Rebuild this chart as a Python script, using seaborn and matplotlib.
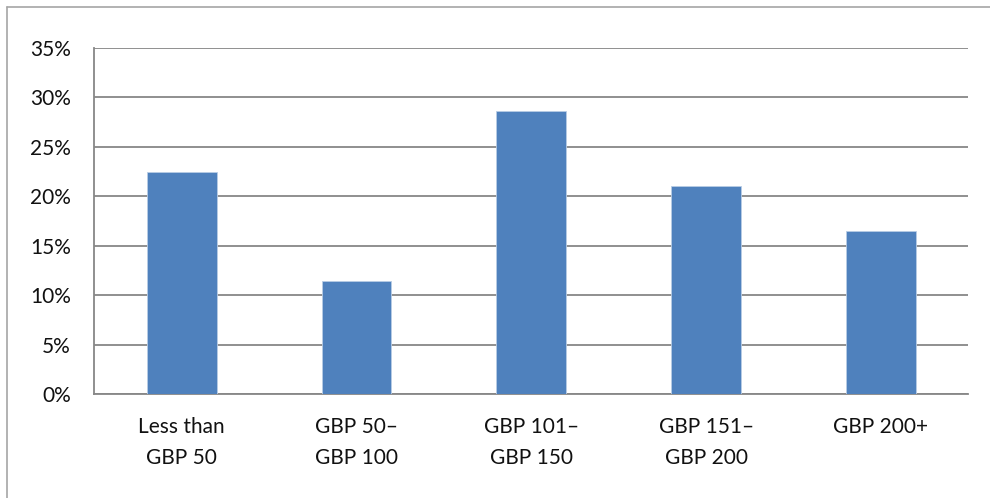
import matplotlib
matplotlib.use("Agg")
import matplotlib.pyplot as plt
from matplotlib.lines import Line2D
from matplotlib.ticker import FuncFormatter
import numpy as np
import pandas as pd
import seaborn as sns

# Share of respondents by spending band
categories = ["Less than\nGBP 50", "GBP 50–\nGBP 100", "GBP 101–\nGBP 150",
              "GBP 151–\nGBP 200", "GBP 200+"]
shares = [0.224, 0.114, 0.286, 0.210, 0.165]
y_ticks = [0.0, 0.05, 0.10, 0.15, 0.20, 0.25, 0.30, 0.35]

df = pd.DataFrame({"band": categories, "share": shares})

sns.set_theme(style="white")
plt.rcParams["font.family"] = ["Lato", "DejaVu Sans"]

W, H = 990, 498
fig = plt.figure(figsize=(W / 100, H / 100), dpi=100)
ax = fig.add_axes([94.3 / W, 1 - 394.3 / H, (968.3 - 94.3) / W, (394.3 - 47.7) / H])

grid_c = "#878787"
sns.barplot(data=df, x="band", y="share", ax=ax, color="#4F81BD",
            width=0.4, saturation=1, edgecolor="#B9CDE5", linewidth=0.6, zorder=3)

ax.set_xlim(-0.5, len(categories) - 0.5)
ax.set_ylim(0, 0.35)
ax.set_yticks(y_ticks)
ax.yaxis.set_major_formatter(FuncFormatter(lambda v, _: f"{v * 100:.0f}%"))
ax.yaxis.grid(True, color=grid_c, linewidth=1.3, zorder=0)
ax.set_axisbelow(True)

ax.set_xlabel("")
ax.set_ylabel("")

# category boundary tick marks below the axis
ax.set_xticks(np.arange(len(categories)))
ax.set_xticklabels(categories, fontsize=15, linespacing=1.72, color="#111111")
ax.set_xticks(np.arange(-0.5, len(categories), 1.0), minor=True)
ax.tick_params(axis="x", which="major", length=0, pad=16)
ax.tick_params(axis="x", which="minor", length=5, width=1.3, color=grid_c, direction="out")
ax.tick_params(axis="y", which="major", length=5.8, width=1.3, color=grid_c,
               direction="out", labelsize=15, pad=11, labelcolor="#111111")

for side in ("top", "right"):
    ax.spines[side].set_visible(False)
for side in ("left", "bottom"):
    ax.spines[side].set_color(grid_c)
    ax.spines[side].set_linewidth(1.3)

# chart frame (top and left edges)
fig.add_artist(Line2D([7 / W, 1.0], [1 - 7 / H, 1 - 7 / H], color="#A6A6A6",
                      linewidth=1.2, transform=fig.transFigure))
fig.add_artist(Line2D([7 / W, 7 / W], [0.0, 1 - 7 / H], color="#A6A6A6",
                      linewidth=1.2, transform=fig.transFigure))

fig.savefig("out.png", dpi=100, facecolor="white")
